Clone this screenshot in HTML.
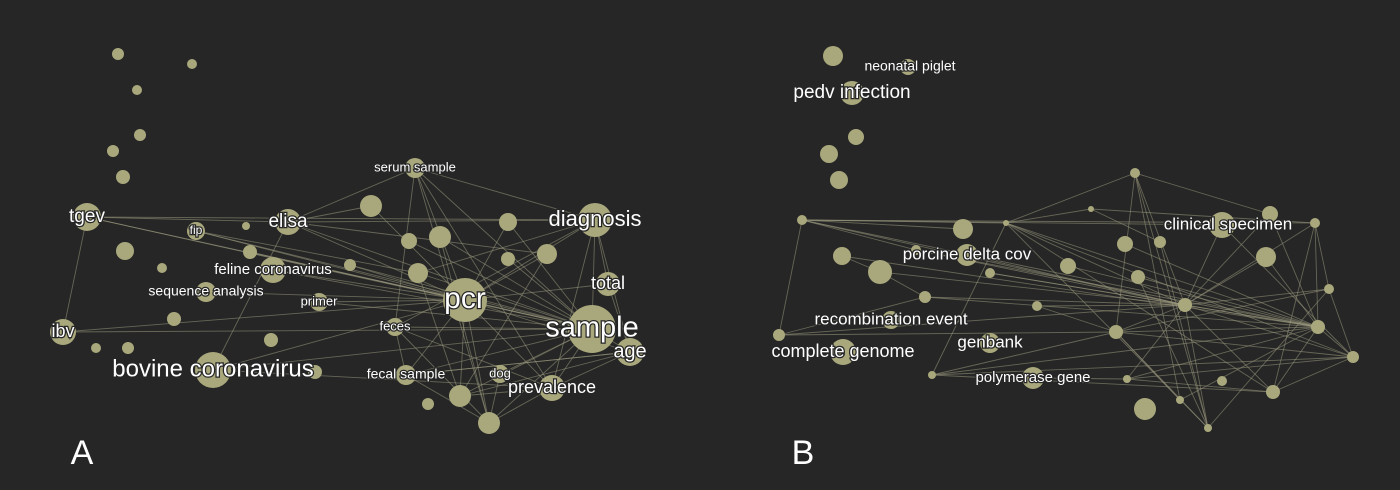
<!DOCTYPE html>
<html><head><meta charset="utf-8"><style>
html,body{margin:0;padding:0;background:#262626;}
svg{display:block;font-family:"Liberation Sans","DejaVu Sans",sans-serif;}
.lbl{fill:#fff;stroke:#262626;stroke-width:2.5px;paint-order:stroke;text-anchor:middle;dominant-baseline:middle;}
</style></head><body>
<svg id="chart" width="1400" height="490" viewBox="0 0 1400 490">
<rect width="1400" height="490" fill="#262626"/>
<g id="gA"></g>
<g id="gB"></g>
<text x="82" y="455" font-size="34" fill="#fff" text-anchor="middle" dominant-baseline="middle">A</text>
<text x="803" y="455" font-size="34" fill="#fff" text-anchor="middle" dominant-baseline="middle">B</text>
</svg>
<script>
const nodesAx=[118,192,137,140,113,123,87,196,246,288,415,371,125,162,250,273,350,206,319,409,440,418,508,547,508,465,395,174,96,128,63,271,213,315,406,428,460,489,500,552,595,608,592,630];
const nodesAy=[54,64,90,135,151,177,217,231,226,222,168,206,251,268,252,270,265,292,302,241,237,273,222,254,259,300,327,319,348,348,332,340,370,372,375,404,396,423,374,388,220,284,329,352];
const nodesAsize=[6,5,5,6,6,7,14,9,4,13,10,11,9,5,7,13,6,10,9,8,11,10,9,10,7,22,9,7,5,6,13,7,18,7,10,6,11,11,9,13,17,12,24,14];
const labelsA={6:["tgev",19],7:["fip",12],9:["elisa",19],10:["serum sample",13],15:["feline coronavirus",15],17:["sequence analysis",14],18:["primer",13],25:["pcr",30],26:["feces",13],30:["ibv",18],32:["bovine coronavirus",24],34:["fecal sample",14],38:["dog",13],39:["prevalence",18],40:["diagnosis",22],41:["total",18],42:["sample",29],43:["age",20]};
const edgesA=[[6,30],[6,25],[6,42],[6,40],[6,9],[7,25],[7,42],[7,21],[9,10],[9,11],[9,25],[9,42],[9,40],[9,23],[9,32],[10,25],[10,42],[10,40],[10,26],[10,39],[10,37],[14,25],[14,42],[15,25],[15,42],[16,25],[17,25],[18,42],[18,25],[30,42],[30,25],[32,42],[32,25],[32,39],[25,40],[25,42],[25,43],[25,39],[25,37],[25,36],[25,34],[25,22],[25,23],[25,41],[40,42],[40,41],[40,43],[40,39],[40,21],[40,26],[42,43],[42,39],[42,38],[42,36],[42,37],[42,34],[42,26],[42,21],[42,20],[42,19],[41,43],[43,39],[43,36],[43,34],[26,37],[26,34],[34,37],[36,39],[37,39],[38,37],[21,36],[11,25],[22,42],[24,42],[23,36],[20,37],[26,39],[34,43],[16,42]];

const nodesBx=[833,908,852,856,829,839,802,963,916,842,880,967,1006,1091,1135,1068,990,925,1037,1138,1222,1270,1160,1125,1266,1315,1329,1185,1318,1353,891,779,843,990,1116,932,1033,1127,1222,1273,1180,1145,1208];
const nodesBy=[56,67,93,137,154,180,220,229,250,256,272,255,223,209,173,266,273,297,306,277,225,214,242,244,257,223,289,305,327,357,320,335,352,343,332,375,378,379,381,392,400,409,428];
const nodesBsize=[10,8,12,8,9,9,5,10,5,9,12,11,3,3,5,8,5,6,5,7,13,8,6,8,10,5,5,7,7,6,9,6,13,10,7,4,11,4,5,7,4,11,4];
const labelsB={1:["neonatal piglet",14,2],2:["pedv infection",19,0],11:["porcine delta cov",17,0],20:["clinical specimen",17,6],30:["recombination event",17,0],32:["complete genome",18,0],33:["genbank",17,0],36:["polymerase gene",15,0]};
const edgesB=[[6,31],[6,7],[6,8],[6,25],[6,20],[6,27],[6,28],[6,12],[9,10],[10,17],[17,31],[17,27],[17,28],[8,27],[8,28],[12,14],[12,13],[12,27],[12,28],[12,29],[12,35],[12,39],[12,42],[14,21],[14,27],[14,40],[14,42],[14,34],[13,25],[13,22],[16,27],[16,28],[18,27],[18,34],[31,34],[31,27],[35,34],[35,28],[35,29],[35,39],[36,37],[19,28],[27,20],[27,21],[27,25],[27,26],[27,28],[27,29],[27,34],[27,37],[27,39],[27,42],[27,24],[34,28],[34,26],[34,29],[34,40],[34,42],[37,28],[37,29],[37,39],[39,28],[39,29],[39,25],[40,28],[42,26],[25,26],[25,28],[26,29],[28,29],[24,28],[21,28],[20,29],[23,28],[22,42],[19,42],[15,28],[11,27],[10,27],[9,28]];

const NS="http://www.w3.org/2000/svg";
function draw(g,xs,ys,rs,edges,labels){
  edges.forEach(function(e){
    const l=document.createElementNS(NS,"line");
    l.setAttribute("x1",xs[e[0]]);l.setAttribute("y1",ys[e[0]]);
    l.setAttribute("x2",xs[e[1]]);l.setAttribute("y2",ys[e[1]]);
    l.setAttribute("stroke","#9c9a80");l.setAttribute("stroke-opacity","0.55");l.setAttribute("stroke-width","0.9");
    
    
    g.appendChild(l);
  });
  xs.forEach(function(x,i){
    const c=document.createElementNS(NS,"circle");
    c.setAttribute("cx",x);c.setAttribute("cy",ys[i]);c.setAttribute("r",rs[i]);
    c.setAttribute("fill","#a9a87c");
    
    
    g.appendChild(c);
  });
  Object.keys(labels).forEach(function(k){
    const L=labels[k];const t=document.createElementNS(NS,"text");
    const dx=(L[2]||0);
    t.setAttribute("x",xs[k]+dx);t.setAttribute("y",ys[k]);t.setAttribute("font-size",L[1]);
    t.setAttribute("class","lbl");t.textContent=L[0];
    
    
    g.appendChild(t);
  });
}
draw(document.getElementById("gA"),nodesAx,nodesAy,nodesAsize,edgesA,labelsA);
draw(document.getElementById("gB"),nodesBx,nodesBy,nodesBsize,edgesB,labelsB);
</script>
</body></html>
